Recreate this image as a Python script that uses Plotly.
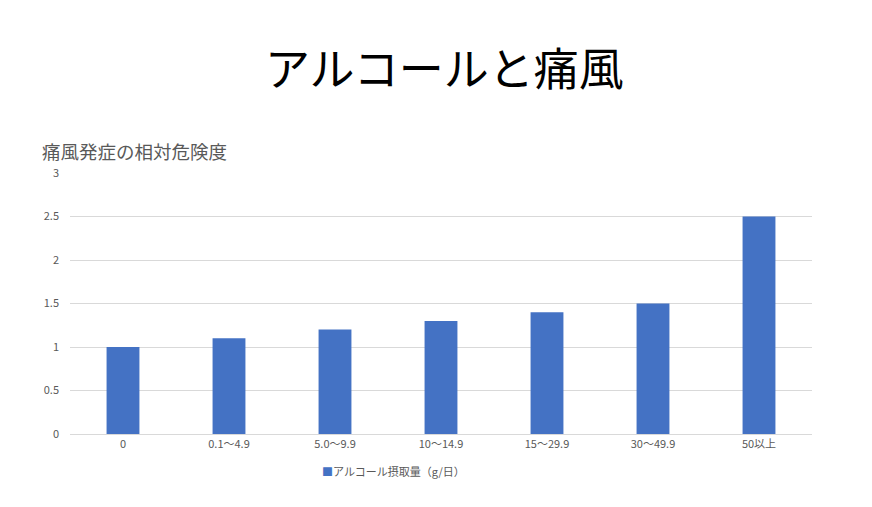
import plotly.graph_objects as go

categories = ["0", "0.1〜4.9", "5.0〜9.9", "10〜14.9", "15〜29.9", "30〜49.9", "50以上"]
values = [1.0, 1.1, 1.2, 1.3, 1.4, 1.5, 2.5]
series_name = "アルコール摂取量（g/日）"
y_ticks = [0, 0.5, 1, 1.5, 2, 2.5, 3]
y_tick_labels = ["0", "0.5", "1", "1.5", "2", "2.5", "3"]

font_family = "Noto Sans CJK JP, Noto Sans, sans-serif"
bar_color = "#4472C4"

fig = go.Figure()
fig.add_trace(go.Bar(
    x=categories, y=values, name=series_name,
    marker=dict(color=bar_color, line=dict(width=0)),
    width=0.31, showlegend=False,
))

plot_l, plot_r, plot_t, plot_b = 70, 60, 173, 73
plot_w = 872 - plot_l - plot_r
plot_h = 507 - plot_t - plot_b

def px_x(x):
    return (x - plot_l) / plot_w

def px_y(y):
    return 1 + (plot_t - y) / plot_h

fig.update_layout(
    width=872, height=507,
    margin=dict(l=plot_l, r=plot_r, t=plot_t, b=plot_b),
    paper_bgcolor="white", plot_bgcolor="white",
    font=dict(family=font_family, size=11, color="#595959"),
    showlegend=False,
    xaxis=dict(showgrid=False, showline=True, linecolor="#d9d9d9", linewidth=1,
               ticks="", tickfont=dict(size=11, color="#595959")),
    yaxis=dict(range=[0, 3], tickvals=y_ticks, ticktext=y_tick_labels,
               showgrid=True, gridcolor="#d9d9d9", gridwidth=1,
               zeroline=False, showline=False, ticks="", ticklabelstandoff=10,
               tickfont=dict(size=11, color="#595959")),
    annotations=[
        dict(text="アルコールと痛風", xref="paper", yref="paper", x=px_x(444), xanchor="center",
             y=px_y(66), yanchor="middle", showarrow=False,
             font=dict(size=45, color="black", family=font_family)),
        dict(text="痛風発症の相対危険度", xref="paper", yref="paper", x=px_x(40), xanchor="left",
             y=px_y(151), yanchor="middle", showarrow=False,
             font=dict(size=18.5, color="#595959", family=font_family)),
        dict(text=f"<span style='color:{bar_color}'>■</span>{series_name}",
             xref="paper", yref="paper", x=px_x(320), xanchor="left",
             y=px_y(471), yanchor="middle", showarrow=False,
             font=dict(size=11, color="#595959", family=font_family)),
    ],
)

fig.write_html("out.html")
